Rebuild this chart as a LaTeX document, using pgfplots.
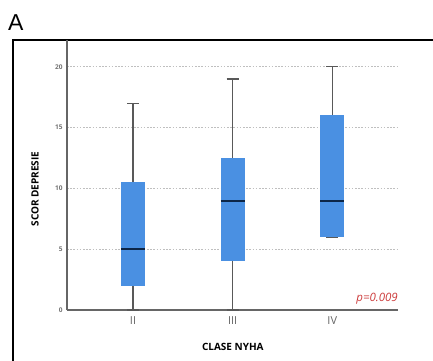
\documentclass[border=0pt]{standalone}
\usepackage{pgfplots}
\pgfplotsset{compat=1.18}
\usepgfplotslibrary{statistics}
\usepackage{fontspec}
\setmainfont{Open Sans}
\newfontfamily\arialfont{Liberation Sans}
\definecolor{boxblue}{RGB}{74,144,226}
\definecolor{medblue}{RGB}{12,38,72}
\definecolor{pred}{RGB}{205,60,60}
\begin{document}
\begin{tikzpicture}[x=1pt,y=1pt]
\useasboundingbox (0,0) rectangle (433,360);
\fill[white] (0,0) rectangle (433,360);
\draw[line width=2pt] (13,-5) -- (13,320) -- (440,320);
\node[anchor=base west, font=\arialfont\fontsize{23}{23}\selectfont, inner sep=0] at (8,330) {A};
\begin{axis}[
  at={(67pt,50pt)}, anchor=south west,
  scale only axis, width=331pt, height=270pt,
  xmin=0.337, xmax=3.66, ymin=0, ymax=22.2,
  axis x line=bottom, axis y line=left,
  axis line style={-, draw=black!60, line width=1.2pt},
  xtick={1,2,3}, xticklabels={II,III,IV},
  ytick={0,5,10,15,20},
  /pgf/number format/assume math mode=true,
  major tick length=0pt,
  yticklabel style={font=\bfseries\fontsize{6.5}{6.5}\selectfont, text=black!55, xshift=-1pt},
  xticklabel style={font=\fontsize{11}{11}\selectfont, text=black!60, yshift=-3pt},
  ymajorgrids,
  grid style={black!25, line width=0.6pt, dash pattern=on 1.6pt off 1.6pt},
  xlabel={CLASE NYHA},
  ylabel={SCOR DEPRESIE},
  xlabel style={at={(axis description cs:0.501,-0.137)}, anchor=center, font=\bfseries\fontsize{10}{10}\selectfont},
  ylabel style={at={(axis description cs:-0.0967,0.448)}, anchor=center, font=\bfseries\fontsize{10}{10}\selectfont},
  boxplot/draw direction=y,
  boxplot/box extend=0.24,
  boxplot/whisker extend=0.12,
  boxplot/every box/.style={fill=boxblue, draw=none},
  boxplot/every whisker/.style={draw=black!65, line width=1.3pt},
  boxplot/every median/.style={draw=medblue, line width=2pt},
  clip=false,
]
\addplot[draw=black!65, line width=1.3pt, boxplot prepared={draw position=1, lower whisker=0, lower quartile=2, median=5, upper quartile=10.5, upper whisker=17}] coordinates {};
\addplot[draw=black!65, line width=1.3pt, boxplot prepared={draw position=2, lower whisker=0, lower quartile=4, median=9, upper quartile=12.5, upper whisker=19}] coordinates {};
\addplot[draw=black!65, line width=1.3pt, boxplot prepared={draw position=3, lower whisker=6, lower quartile=6, median=9, upper quartile=16, upper whisker=20}] coordinates {};
\node[anchor=base east, text=pred, font=\itshape\fontsize{11.5}{11.5}\selectfont, inner sep=0] at (axis cs:3.66,0.66) {p=0.009};
\end{axis}
\end{tikzpicture}
\end{document}
